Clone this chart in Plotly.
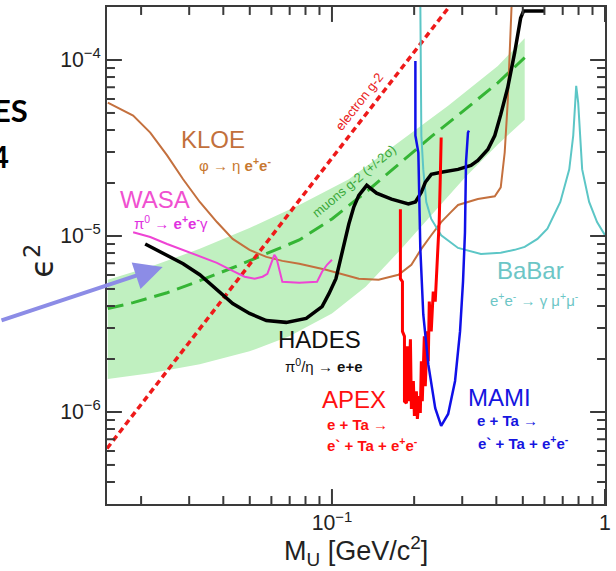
import numpy as np
import plotly.graph_objects as go

# ---------------- data (mass in GeV/c^2, epsilon^2) ----------------
kloe_m = [0.0151, 0.0187, 0.0216, 0.0249, 0.0285, 0.0328, 0.0379, 0.0433, 0.0499, 0.0575,
          0.0658, 0.0759, 0.0951, 0.1254, 0.1482, 0.1752, 0.1954, 0.2125, 0.231, 0.2512,
          0.2732, 0.2896, 0.3423, 0.3948, 0.4151, 0.4292, 0.4401, 0.4476, 0.4552]
kloe_e = [5.72e-5, 4.83e-5, 3.87e-5, 2.87e-5, 2.10e-5, 1.56e-5, 1.20e-5, 9.62e-6, 8.34e-6, 7.61e-6,
          7.22e-6, 6.95e-6, 6.43e-6, 5.72e-6, 5.64e-6, 6.02e-6, 6.86e-6, 8.45e-6, 1.01e-5, 1.20e-5,
          1.37e-5, 1.50e-5, 1.62e-5, 1.68e-5, 1.89e-5, 2.98e-5, 5.72e-5, 1.25e-4, 2.10e-4]

wasa_m = [0.0187, 0.0216, 0.0249, 0.0285, 0.0328, 0.0379, 0.0433, 0.0479, 0.0521, 0.0557,
          0.0580, 0.0600, 0.0615, 0.0626, 0.0658, 0.0759, 0.0882, 0.0920, 0.0959, 0.1]
wasa_e = [1.05e-5, 9.87e-6, 9.01e-6, 8.34e-6, 7.71e-6, 7.04e-6, 6.34e-6, 5.87e-6, 5.72e-6, 5.87e-6,
          6.10e-6, 7.13e-6, 7.81e-6, 7.51e-6, 5.50e-6, 5.43e-6, 5.50e-6, 6.26e-6, 6.86e-6, 7.32e-6]

hades_m = [0.0207, 0.0249, 0.0285, 0.0328, 0.0379, 0.0433, 0.0499, 0.0575, 0.0680, 0.0805,
           0.0920, 0.0975, 0.1034, 0.1087, 0.1153, 0.1202, 0.1254, 0.1341, 0.1457, 0.1652,
           0.1905, 0.2021, 0.2125, 0.2197, 0.231, 0.2512, 0.2896, 0.3229, 0.3423, 0.3723,
           0.3948, 0.4151, 0.4401, 0.4668, 0.4909, 0.5033, 0.600]
hades_e = [9.01e-6, 7.81e-6, 6.95e-6, 6.02e-6, 4.95e-6, 4.13e-6, 3.63e-6, 3.31e-6, 3.23e-6, 3.40e-6,
           3.97e-6, 4.70e-6, 5.72e-6, 8.12e-6, 1.17e-5, 1.46e-5, 1.70e-5, 1.94e-5, 1.75e-5, 1.62e-5,
           1.52e-5, 1.56e-5, 1.77e-5, 2.02e-5, 2.24e-5, 2.30e-5, 2.39e-5, 2.52e-5, 2.69e-5, 3.10e-5,
           3.72e-5, 4.89e-5, 6.95e-5, 1.10e-4, 1.73e-4, 1.90e-4, 1.90e-4]

apex_m = [0.1781, 0.1781, 0.1812, 0.1812, 0.1843, 0.1843, 0.1874, 0.1890, 0.1905, 0.1938,
          0.1954, 0.1987, 0.2004, 0.2038, 0.2055, 0.2089, 0.2107, 0.2125, 0.2142, 0.2179,
          0.2197, 0.2235, 0.2253, 0.2272, 0.231, 0.2349, 0.2389, 0.2429, 0.2470, 0.2491, 0.2512]
apex_e = [1.42e-5, 5.72e-6, 5.50e-6, 2.87e-6, 2.69e-6, 1.15e-6, 1.12e-6, 2.36e-6, 1.15e-6, 2.59e-6,
          1.04e-6, 1.50e-6, 9.49e-7, 1.31e-6, 9.13e-7, 1.23e-6, 9.87e-7, 1.94e-6, 1.15e-6, 2.69e-6,
          1.40e-6, 2.87e-6, 1.94e-6, 4.24e-6, 2.87e-6, 4.83e-6, 4.24e-6, 7.13e-6, 1.20e-5, 2.02e-5, 3.63e-5]

mami_m = [0.2021, 0.2021, 0.2072, 0.2089, 0.2107, 0.2160, 0.2253, 0.2389, 0.2512, 0.2664,
          0.2824, 0.2945, 0.3020, 0.3070, 0.3097, 0.3097, 0.3149, 0.3176]
mami_e = [9.87e-5, 3.72e-5, 2.98e-5, 1.56e-5, 8.45e-6, 3.58e-6, 1.87e-6, 1.05e-6, 8.34e-7, 9.74e-7,
          1.50e-6, 2.87e-6, 5.50e-6, 1.05e-5, 2.02e-5, 2.62e-5, 3.87e-5, 3.97e-5]

babar_m = [0.2107, 0.2125, 0.2160, 0.2215, 0.231, 0.2512, 0.2896, 0.3512, 0.4151, 0.4668,
           0.508, 0.5658, 0.6153, 0.6861, 0.7398, 0.7649, 0.7779, 0.7844, 0.7976, 0.8045,
           0.8249, 0.8747, 0.9352, 1.0]
babar_e = [2.1e-4, 3.72e-5, 2.39e-5, 1.56e-5, 1.25e-5, 1.01e-5, 8.55e-6, 7.91e-6, 8.02e-6, 8.34e-6,
           8.67e-6, 9.62e-6, 1.10e-5, 1.56e-5, 2.39e-5, 3.72e-5, 5.72e-5, 7.13e-5, 5.72e-5, 4.58e-5,
           2.39e-5, 1.56e-5, 1.20e-5, 1.01e-5]

eg2_m = [0.015, 0.30]
eg2_e = [6.2e-7, 2.5e-4]

mug2_m = [0.0151, 0.0187, 0.0249, 0.0328, 0.0433, 0.0575, 0.0759, 0.1, 0.1329, 0.1752,
          0.231, 0.307, 0.405, 0.508]
mug2_e = [3.87e-6, 4.18e-6, 4.76e-6, 5.57e-6, 6.60e-6, 7.91e-6, 9.49e-6, 1.25e-5, 1.77e-5, 2.55e-5,
          3.67e-5, 5.22e-5, 7.42e-5, 1.03e-4]

band_up_m = [0.0151, 0.0216, 0.0328, 0.0499, 0.0759, 0.1153, 0.1752, 0.2664, 0.405, 0.508]
band_up_e = [5.64e-6, 6.68e-6, 8.45e-6, 1.11e-5, 1.50e-5, 2.10e-5, 3.40e-5, 5.50e-5, 9.25e-5, 1.33e-4]
band_lo_m = [0.0151, 0.0216, 0.0328, 0.0499, 0.0698, 0.1, 0.1329, 0.1752, 0.231, 0.307, 0.405, 0.508]
band_lo_e = [1.54e-6, 1.66e-6, 1.87e-6, 2.21e-6, 2.69e-6, 3.63e-6, 5.15e-6, 8.12e-6, 1.31e-5, 2.15e-5,
             3.31e-5, 4.58e-5]

FONT = "Liberation Sans, Arial, sans-serif"
AXC = "#3a3a3a"
X_RANGE = [np.log10(0.015), 0.0]
Y_RANGE = [np.log10(3e-7), np.log10(2e-4)]
W, H = 616, 571
MARGIN = dict(l=107, r=8, t=5, b=67)
PLOT_W = W - MARGIN["l"] - MARGIN["r"]
PLOT_H = H - MARGIN["t"] - MARGIN["b"]

fig = go.Figure()

# muon g-2 band
fig.add_trace(go.Scatter(
    x=band_up_m + band_lo_m[::-1], y=band_up_e + band_lo_e[::-1],
    mode="lines", fill="toself", fillcolor="rgb(192,240,192)",
    line=dict(width=0, color="rgba(0,0,0,0)"), hoverinfo="skip"))
fig.add_trace(go.Scatter(x=mug2_m, y=mug2_e, mode="lines",
                         line=dict(color="#35b535", width=3, dash="16px,8px")))
# electron g-2
fig.add_trace(go.Scatter(x=eg2_m, y=eg2_e, mode="lines",
                         line=dict(color="#ee1a1a", width=3.5, dash="6px,4px")))
# KLOE
fig.add_trace(go.Scatter(x=kloe_m, y=kloe_e, mode="lines",
                         line=dict(color="#c4703e", width=2)))
# WASA
fig.add_trace(go.Scatter(x=wasa_m, y=wasa_e, mode="lines",
                         line=dict(color="#ee44d4", width=2)))
# BaBar
fig.add_trace(go.Scatter(x=babar_m, y=babar_e, mode="lines",
                         line=dict(color="#5cc6c6", width=2)))
# HADES
fig.add_trace(go.Scatter(x=hades_m, y=hades_e, mode="lines",
                         line=dict(color="black", width=3.5)))
# APEX
fig.add_trace(go.Scatter(x=apex_m, y=apex_e, mode="lines",
                         line=dict(color="#ff0000", width=3)))
# MAMI
fig.add_trace(go.Scatter(x=mami_m, y=mami_e, mode="lines",
                         line=dict(color="#1010e8", width=2.5)))

major = dict(type="log", showline=True, linecolor=AXC, linewidth=1.6,
             mirror=True, ticks="", showgrid=False, zeroline=False,
             tickmode="linear", tick0=0, dtick=1,
             exponentformat="power", showexponent="all",
             tickfont=dict(family=FONT, size=17, color="#222"))

fig.update_layout(xaxis=dict(range=X_RANGE, **major),
                  yaxis=dict(range=Y_RANGE, ticklabelstandoff=1, **major))

# tick marks on all four sides, pointing into the plot (decades and 2..9 subdivisions),
# placed in paper units from the axis ranges
x_major = [0.1, 1.0]
y_major = [1e-6, 1e-5, 1e-4]
x_minor = [k * 10.0 ** d for d in (-2, -1) for k in range(2, 10)]
y_minor = [k * 10.0 ** d for d in (-7, -6, -5) for k in range(2, 10)]
tick_line = dict(color=AXC, width=2)


def frac(v, rng):
    return (np.log10(v) - rng[0]) / (rng[1] - rng[0])


for vals, L in ((x_major, 15), (x_minor, 8)):
    for v in vals:
        f = float(frac(v, X_RANGE))
        if 0 < f <= 1:
            for base, sgn in ((0.0, 1), (1.0, -1)):
                fig.add_shape(type="line", xref="paper", yref="paper", x0=f, x1=f,
                              y0=base, y1=base + sgn * L / PLOT_H, line=tick_line, layer="above")
for vals, L in ((y_major, 15), (y_minor, 8)):
    for v in vals:
        f = float(frac(v, Y_RANGE))
        if 0 < f < 1:
            for base, sgn in ((0.0, 1), (1.0, -1)):
                fig.add_shape(type="line", xref="paper", yref="paper", y0=f, y1=f,
                              x0=base, x1=base + sgn * L / PLOT_W, line=tick_line, layer="above")


def label(text, x, y, size, color, angle=0, family=FONT, xanchor="center"):
    fig.add_annotation(text=text, x=x, y=y, xref="paper", yref="paper", showarrow=False,
                       textangle=angle, font=dict(family=family, size=size, color=color),
                       xanchor=xanchor, yanchor="middle")


label("KLOE", 0.2136, 0.7325, 24, "#c2703c")
label("φ → η <b>e<sup>+</sup>e<sup>-</sup></b>", 0.2575, 0.6834, 15, "#c87830")
label("WASA", 0.0968, 0.6122, 24, "#f050d0")
label("π<sup>0</sup> → <b>e<sup>+</sup>e<sup>-</sup></b>γ", 0.1287, 0.5671, 15, "#e030e0")
label("HADES", 0.4261, 0.3317, 24, "#111")
label("π<sup>0</sup>/η → <b>e+e</b>", 0.4361, 0.2786, 15, "#111")
label("APEX", 0.495, 0.2104, 24, "#ff1010")
label("<b>e + Ta</b> →", 0.504, 0.1603, 15, "#ff1010")
label("<b>e` + Ta + e<sup>+</sup>e<sup>-</sup></b>", 0.533, 0.1202, 15, "#ff1010")
label("MAMI", 0.7874, 0.2134, 24, "#1515e0")
label("<b>e + Ta</b> →", 0.8034, 0.1683, 15, "#1515e0")
label("<b>e` + Ta + e<sup>+</sup>e<sup>-</sup></b>", 0.8363, 0.1242, 15, "#1515e0")
label("BaBar", 0.8513, 0.4689, 24, "#6cc6c6")
label("e<sup>+</sup>e<sup>-</sup> → γ μ<sup>+</sup>μ<sup>-</sup>", 0.8593, 0.4118, 15, "#6cc6c6")
label("electron g-2", 0.507, 0.8096, 13, "#e82020", angle=-52)
label("muons g-2 (+/-2σ)", 0.495, 0.6493, 13, "#3aa83a", angle=-40)

# axis titles
label("M<sub>U</sub> [GeV/c<sup>2</sup>]", 0.501, -0.094, 27, "#222")
label("ϵ<sup>2</sup>", -0.134, 0.49, 32, "#222", angle=-90, family="DejaVu Sans")

# slide fragments at the left edge
label("<b>ES</b>", -0.1537, 0.7936, 31, "black", xanchor="right", family="Lato, sans-serif")
label("<b>4</b>", -0.1936, 0.6994, 31, "black", xanchor="right", family="Lato, sans-serif")

# pointer arrow
fig.add_annotation(x=0.1118, y=0.477, xref="paper", yref="paper", ax=-200, ay=54,
                   axref="pixel", ayref="pixel", showarrow=True, arrowhead=2, arrowsize=1.4,
                   arrowwidth=4, arrowcolor="#8c8ce6", text="")

fig.update_layout(width=W, height=H, margin=MARGIN,
                  paper_bgcolor="white", plot_bgcolor="white", showlegend=False)

fig.write_html("out.html")
